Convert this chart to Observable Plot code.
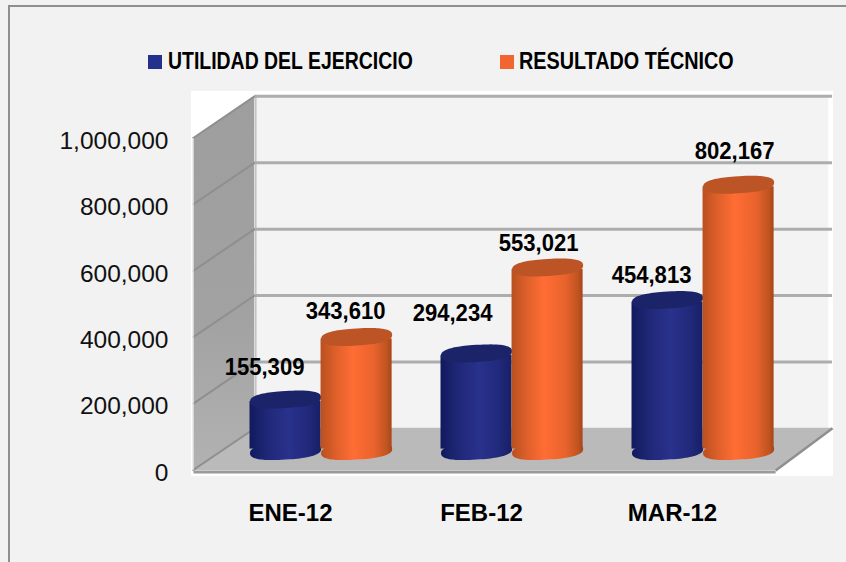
<!DOCTYPE html>
<html><head><meta charset="utf-8">
<script src="https://cdn.jsdelivr.net/npm/d3@7"></script>
<script src="https://cdn.jsdelivr.net/npm/@observablehq/plot@0.6"></script>
<style>
html,body{margin:0;padding:0;background:#f2f2f2;}
#page{position:relative;width:846px;height:562px;overflow:hidden;font-family:"Liberation Sans",Arial,sans-serif;background:#f2f2f2;}
#ruleTop{position:absolute;left:8px;top:5px;width:838px;height:2px;background:#8f8f8f;}
#ruleLeft{position:absolute;left:8px;top:5px;width:2px;height:557px;background:#8f8f8f;}
#legend{position:absolute;left:0;top:0;width:846px;height:88px;font-weight:bold;font-size:23px;color:#000;}
.sw{position:absolute;top:55px;width:14px;height:14px;}
.lb{position:absolute;top:49px;line-height:24px;white-space:nowrap;transform-origin:left center;}
#chart{position:absolute;left:0;top:90px;}
#chart svg{background:transparent;display:block;}
</style></head>
<body><div id="page"><div id="ruleTop"></div><div id="ruleLeft"></div><div id="legend"></div><div id="chart"></div></div>
<script>
const months = ["ENE-12","FEB-12","MAR-12"];
const seriesNames = ["UTILIDAD DEL EJERCICIO","RESULTADO TÉCNICO"];
const utilidad = [155309,294234,454813];
const resultado = [343610,553021,802167];
const yTicks = [0,200000,400000,600000,800000,1000000];

// layout constants, in scale units (x: one unit per month, y: currency)
const depthX = 0.32, depthY = 127000;
const left = -0.508, right = 2.54, rightBack = 2.838, barW = 0.372;
const labelShift = [[-21,-32],[-11,-26],[-24,-40],[-9,-24],[-16,-25],[-4,-33]];

const legendEl = document.getElementById("legend");
[[148,168,"#23318c",seriesNames[0],.845],[500,519,"#f26430",seriesNames[1],.86]].forEach(([sx,tx,c,t,k])=>{
  legendEl.insertAdjacentHTML("beforeend",`<div class="sw" style="left:${sx}px;background:${c}"></div><div class="lb" style="left:${tx}px;transform:scaleX(${k})">${t}</div>`);
});

const bars = [];
months.forEach((m,i)=>{
  const base = i + depthX/2;
  bars.push({x1:base-barW, x2:base, cx:base-barW/2, v:utilidad[i], s:0, i});
  bars.push({x1:base, x2:base+barW, cx:base+barW/2, v:resultado[i], s:1, i});
});
bars.forEach((b,k)=>{b.dx=labelShift[k][0];b.dy=labelShift[k][1];});
const blueBars = bars.filter(b=>b.s===0), orangeBars = bars.filter(b=>b.s===1);
const mid = 58500, inset = 6000;

// sheared, slightly squared ellipse as a custom dot symbol: the cylinder's end cap
const capSymbol = {draw(ctx,size){
  const rx = Math.sqrt(size/Math.PI), ry = rx*0.24, shear = 0.06, e = 2/2.5;
  for(let t=0;t<=96;t++){
    const u=t/96*2*Math.PI, c=Math.cos(u), s=Math.sin(u);
    const ex=rx*Math.sign(c)*Math.abs(c)**e, ey=ry*Math.sign(s)*Math.abs(s)**e;
    const px=ex, py=ey-ex*shear;
    t?ctx.lineTo(px,py):ctx.moveTo(px,py);
  }
  ctx.closePath();
}};

const defs = () => {
  const s = d3.create("svg:defs");
  const grad=(id,stops,x2=1,y2=0)=>{
    const g=s.append("linearGradient").attr("id",id).attr("x1",0).attr("y1",0).attr("x2",x2).attr("y2",y2);
    stops.forEach(([o,c])=>g.append("stop").attr("offset",o).attr("stop-color",c));
  };
  grad("gBlue",[[0,"#111a5e"],[.25,"#1f2877"],[.55,"#29328c"],[.85,"#1f2878"],[1,"#171f66"]]);
  grad("gOrange",[[0,"#b9501f"],[.2,"#dc5f2a"],[.45,"#ff6d34"],[.75,"#e9632c"],[.93,"#c05422"],[1,"#a84617"]]);
  grad("gWall",[[0,"#9e9e9e"],[.6,"#a2a2a2"],[1,"#b2b2b2"]],0,1);
  return s.node();
};

const floorData=[{y:0,x1:left,x2:right},{y:depthY,x1:left+depthX,x2:rightBack}];
const wallData=[{x:left,y1:0,y2:1000000},{x:left+depthX,y1:depthY,y2:1000000+depthY}];
const r = barW/2*191;

const plot = Plot.plot({
  width:846, height:472, margin:0,
  style:{background:"transparent",overflow:"visible"},
  x:{domain:[0,2],range:[290,672],axis:null},
  y:{domain:[0,1000000],range:[380,48],axis:null},
  marks:[
    defs,
    // white plot region
    Plot.rect([{}],{x1:left-0.01,x2:rightBack+0.005,y1:-18000,y2:1000000+depthY+14800,fill:"#fff"}),
    // back wall
    Plot.rect([{}],{x1:left+depthX,x2:rightBack-0.02,y1:depthY,y2:1000000+depthY,fill:"#f3f3f3"}),
    // left wall
    Plot.areaY(wallData,{x:"x",y1:"y1",y2:"y2",fill:"url(#gWall)"}),
    Plot.ruleX([left+depthX],{y1:depthY,y2:1000000+depthY,stroke:"#c4c4c4",strokeWidth:2,dx:1}),
    // floor
    Plot.areaX(floorData,{y:"y",x1:"x1",x2:"x2",fill:"#bababa"}),
    Plot.link([{}],{x1:left,x2:right,y1:0,y2:0,stroke:"#9a9a9a",strokeWidth:3,dy:1.5}),
    Plot.link([{}],{x1:right,x2:rightBack,y1:0,y2:depthY,stroke:"#8f8f8f",strokeWidth:2.5}),
    // gridlines on back wall and side wall
    Plot.ruleY(yTicks.slice(1),{x1:left+depthX,x2:rightBack,y:d=>d+depthY,stroke:"#adadad",strokeWidth:3}),
    Plot.link(yTicks,{x1:left-0.005,x2:left+depthX,y1:d=>d,y2:d=>d+depthY,stroke:"#8f8f8f",strokeWidth:2}),
    Plot.ruleX([left],{y1:0,y2:1000000,stroke:"#e8e8e8",strokeWidth:1.5,dx:-0.5}),
    // cylinders: draw series in order so orange overlaps blue
    ...[[blueBars,"url(#gBlue)","#1b2468"],[orangeBars,"url(#gOrange)","#bd5426"]].flatMap(([data,body,top])=>[
      Plot.dot(data,{x:"cx",y:mid,r,symbol:capSymbol,fill:body}),
      Plot.rect(data,{x1:"x1",x2:"x2",y1:mid+inset,y2:d=>d.v+mid-inset,fill:body}),
      Plot.dot(data,{x:"cx",y:d=>d.v+mid,r,symbol:capSymbol,fill:top})
    ]),
    // value labels
    ...bars.map(b=>Plot.text([b],{x:"cx",y:d=>d.v+mid,text:d=>d3.format(",")(d.v),dx:b.dx,dy:b.dy,fontSize:24,fontWeight:"bold",fill:"#000",fontFamily:"Liberation Sans",className:"vlabel"})),
    // axes
    Plot.axisY(yTicks,{anchor:"left",x:left,tickSize:0,tickPadding:0,dx:-25,dy:2.5,tickFormat:d3.format(","),fontSize:24.5,fontFamily:"Liberation Sans",fill:"#111",label:null}),
    Plot.text(months,{x:(d,i)=>i,y:0,text:d=>d,dy:43,fontSize:24,fontWeight:"bold",fill:"#000",fontFamily:"Liberation Sans"})
  ]
});
document.getElementById("chart").appendChild(plot);
// value labels are set slightly condensed
d3.select(plot).selectAll(".vlabel text").each(function(){
  this.setAttribute("textLength",this.getComputedTextLength()*0.92);
  this.setAttribute("lengthAdjust","spacingAndGlyphs");
});
</script></body></html>
